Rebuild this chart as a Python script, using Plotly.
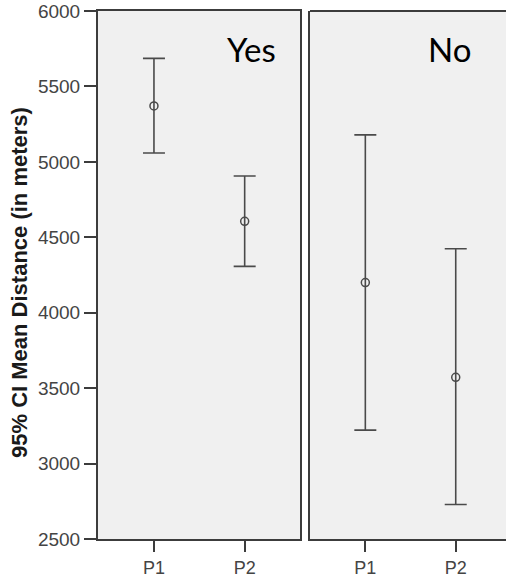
import plotly.graph_objects as go

# ---- data ----
periods = ["P1", "P2"]
groups = ["Yes", "No"]
mean_yes = [5371, 4606]
upper_yes = [5686, 4906]
lower_yes = [5059, 4307]
mean_no = [4200, 3572]
upper_no = [5179, 4424]
lower_no = [3222, 2729]
y_ticks = [2500, 3000, 3500, 4000, 4500, 5000, 5500, 6000]
y_title = "95% CI Mean Distance (in meters)"

W, H = 506, 579

def fx(px):  # page x pixel -> paper fraction
    return px / W

def fy(py):  # page y pixel -> paper fraction
    return 1 - py / H

line_col = "#3c3c3c"
mark_col = "#4a4a4a"
tick_font = dict(family="Liberation Sans, Arial, sans-serif", size=19, color="#444444")
xtick_font = dict(family="Liberation Sans, Arial, sans-serif", size=18, color="#444444")

fig = go.Figure()

def add_panel(means, ups, lows, xa, ya):
    fig.add_trace(go.Scatter(
        x=periods, y=means, mode="markers", xaxis=xa, yaxis=ya,
        marker=dict(symbol="circle-open", size=8, color=mark_col, line=dict(width=1.5, color=mark_col)),
        error_y=dict(type="data", symmetric=False,
                     array=[u - m for u, m in zip(ups, means)],
                     arrayminus=[m - l for m, l in zip(means, lows)],
                     color=mark_col, thickness=1.6, width=11),
        showlegend=False, hoverinfo="skip"))

add_panel(mean_yes, upper_yes, lower_yes, "x", "y")
add_panel(mean_no, upper_no, lower_no, "x2", "y2")

y_dom = [fy(539), fy(11)]
xl = [fx(98), fx(300)]
xr = [fx(310), 1.0]

common_x = dict(type="category", showgrid=False, zeroline=False, showline=True,
                linecolor=line_col, linewidth=2, ticks="outside", ticklen=11,
                tickwidth=2, tickcolor=line_col, tickfont=xtick_font, automargin=False)

fig.update_layout(
    width=W, height=H,
    margin=dict(l=0, r=0, t=0, b=0),
    paper_bgcolor="white", plot_bgcolor="#f0f0f0",
    xaxis=dict(domain=xl, range=[-0.617, 1.61], mirror=True, anchor="y", **common_x),
    xaxis2=dict(domain=xr, range=[-0.612, 1.556], mirror=False, anchor="y2", **common_x),
    yaxis=dict(domain=y_dom, range=[2500, 6000], tickvals=y_ticks,
               ticktext=[str(v) for v in y_ticks],
               showgrid=False, zeroline=False, showline=True, mirror=True,
               linecolor=line_col, linewidth=2, ticks="outside", ticklen=12,
               tickwidth=2, tickcolor=line_col, tickfont=tick_font, automargin=False,
               anchor="x"),
    yaxis2=dict(domain=y_dom, range=[2500, 6000], showgrid=False, zeroline=False,
                showline=True, mirror=False, linecolor=line_col, linewidth=2,
                showticklabels=False, ticks="", anchor="x2", matches="y"),
)

# top border of the right panel (its right edge is cut off in the reference)
fig.add_shape(type="line", xref="x2 domain", yref="y2 domain", x0=0, x1=1, y0=1, y1=1,
              line=dict(color=line_col, width=2))

title_font = dict(family="Lato, Carlito, Calibri, sans-serif", size=33, color="black")
fig.add_annotation(text=groups[0], xref="x domain", yref="y domain", x=0.891, y=0.928,
                   xanchor="right", yanchor="middle", showarrow=False, font=title_font)
fig.add_annotation(text=groups[1], xref="x2 domain", yref="y2 domain", x=0.832, y=0.928,
                   xanchor="right", yanchor="middle", showarrow=False, font=title_font)

fig.add_annotation(text="<b>" + y_title + "</b>", xref="paper", yref="paper",
                   x=fx(19.5), y=fy(282.5), xanchor="center", yanchor="middle",
                   textangle=-90, showarrow=False,
                   font=dict(family="Liberation Sans, Arial, sans-serif", size=22, color="#1a1a1a"))

fig.write_html("out.html", config={"displayModeBar": False, "staticPlot": True},
               post_script="document.body.style.margin='0';document.body.style.overflow='hidden';")
